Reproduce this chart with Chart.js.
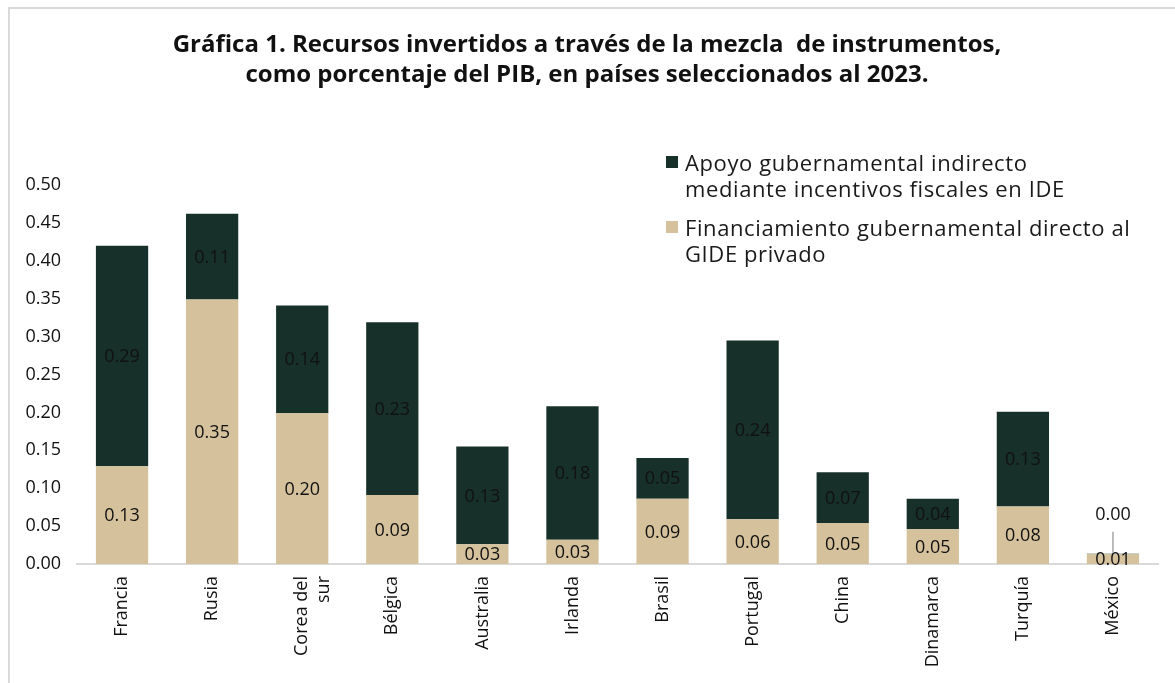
<!DOCTYPE html>
<html>
<head>
<meta charset="utf-8">
<script src="https://cdn.jsdelivr.net/npm/chart.js@4.4.1/dist/chart.umd.min.js"></script>
<style>
  html, body { margin: 0; padding: 0; background: #fff; }
  #wrap { position: relative; width: 1175px; height: 683px; overflow: hidden; font-family: "Open Sans", sans-serif; }
  #frame { position: absolute; left: 8px; top: 7px; width: 1200px; height: 700px; border-left: 2px solid #d9d9d9; border-top: 2px solid #d9d9d9; }
  #chart { position: absolute; left: 0; top: 0; }
  #legend { position: absolute; left: 666px; top: 149px; font-size: 22px; line-height: 26px; letter-spacing: 0.6px; color: #1a1a1a; white-space: nowrap; }
  #legend .item { position: relative; padding-left: 19px; margin-bottom: 13px; }
  #legend .box { position: absolute; left: 0; top: 7px; width: 12px; height: 12px; }
</style>
</head>
<body>
<div id="wrap">
  <div id="frame"></div>
  <canvas id="chart" width="1175" height="683"></canvas>
  <div id="legend">
    <div class="item"><span class="box" style="background:#173029"></span>Apoyo gubernamental indirecto<br>mediante incentivos fiscales en IDE</div>
    <div class="item"><span class="box" style="background:#d5c19b"></span>Financiamiento gubernamental directo al<br>GIDE privado</div>
  </div>
</div>
<script>
const countries = ["Francia", "Rusia", ["Corea del", "sur"], "Bélgica", "Australia", "Irlanda", "Brasil", "Portugal", "China", "Dinamarca", "Turquía", "México"];
const directo = [0.129, 0.349, 0.199, 0.091, 0.026, 0.032, 0.086, 0.059, 0.054, 0.046, 0.076, 0.013];
const indirecto = [0.291, 0.113, 0.142, 0.228, 0.129, 0.176, 0.054, 0.236, 0.067, 0.040, 0.125, 0.0004];
const yTicks = { min: 0, max: 0.5, step: 0.05 };

const DARK = "#173029";
const TAN = "#d5c19b";
const FONT = "'Open Sans', sans-serif";

// etiquetas de valor dentro de cada segmento
const valueLabels = {
  id: "valueLabels",
  afterDatasetsDraw(chart) {
    const ctx = chart.ctx;
    ctx.save();
    ctx.font = "18px " + FONT;
    ctx.fillStyle = "#111";
    ctx.textAlign = "center";
    ctx.textBaseline = "middle";
    chart.data.datasets.forEach((ds, di) => {
      chart.getDatasetMeta(di).data.forEach((bar, i) => {
        const txt = ds.data[i].toFixed(2);
        const h = Math.abs(bar.base - bar.y);
        if (di === 1 && h < 6) {
          // segmento casi nulo: etiqueta arriba con línea guía
          ctx.strokeStyle = "#a6a6a6";
          ctx.lineWidth = 1.5;
          ctx.beginPath();
          ctx.moveTo(bar.x, bar.y - 22);
          ctx.lineTo(bar.x, bar.y - 1);
          ctx.stroke();
          ctx.fillText(txt, bar.x, bar.y - 39);
        } else {
          ctx.fillText(txt, bar.x, (bar.y + bar.base) / 2 + 1);
        }
      });
    });
    ctx.restore();
  },
};

new Chart(document.getElementById("chart"), {
  type: "bar",
  data: {
    labels: countries,
    datasets: [
      { label: "Financiamiento gubernamental directo al GIDE privado", data: directo, backgroundColor: TAN },
      { label: "Apoyo gubernamental indirecto mediante incentivos fiscales en IDE", data: indirecto, backgroundColor: DARK },
    ],
  },
  options: {
    responsive: false,
    animation: false,
    events: [],
    layout: { padding: { left: 16, right: 17, top: 0, bottom: 0 } },
    datasets: { bar: { categoryPercentage: 1, barPercentage: 0.58 } },
    plugins: {
      legend: { display: false },
      tooltip: { enabled: false },
      title: {
        display: true,
        text: ["Gráfica 1. Recursos invertidos a través de la mezcla  de instrumentos,", "como porcentaje del PIB, en países seleccionados al 2023."],
        color: "#111",
        font: { family: FONT, size: 24, weight: "bold", lineHeight: 1.25 },
        padding: { top: 30, bottom: 95 },
      },
    },
    scales: {
      x: {
        stacked: true,
        grid: { display: false, drawTicks: false },
        border: { display: true, color: "#d9d9d9", width: 2 },
        ticks: { color: "#111", font: { family: FONT, size: 18 }, minRotation: 90, maxRotation: 90, padding: 12, autoSkip: false },
        afterFit(scale) { scale.height = 119; },
      },
      y: {
        stacked: true,
        min: yTicks.min,
        max: yTicks.max,
        grid: { display: false, drawTicks: false },
        border: { display: false },
        ticks: {
          stepSize: yTicks.step,
          color: "#111",
          font: { family: FONT, size: 18 },
          padding: 16,
          callback: (v) => Number(v).toFixed(2),
        },
        afterFit(scale) { scale.width = 61; },
      },
    },
  },
  plugins: [valueLabels],
});
</script>
</body>
</html>
